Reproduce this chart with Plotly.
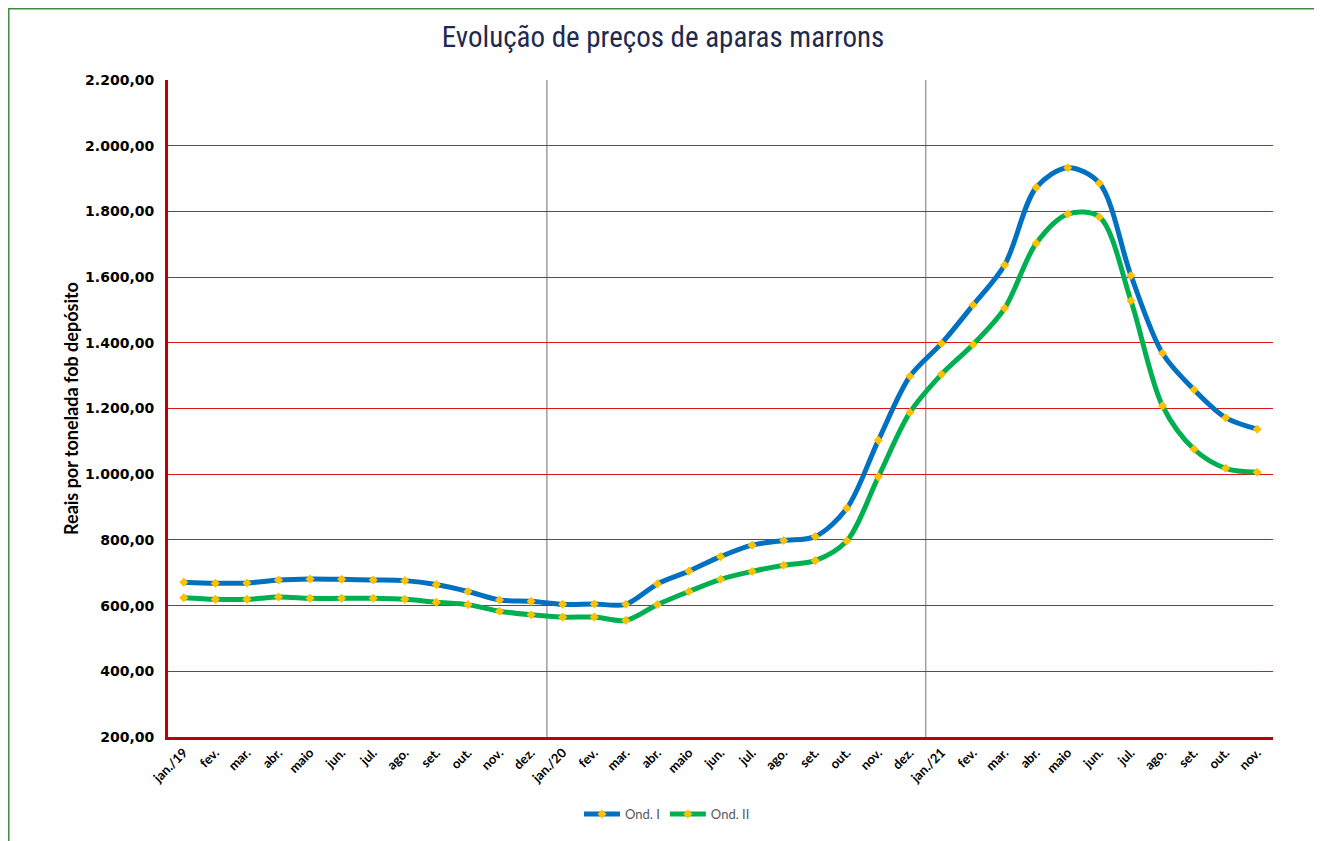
import plotly.graph_objects as go

months = ["jan./19", "fev.", "mar.", "abr.", "maio", "jun.", "jul.", "ago.", "set.", "out.", "nov.", "dez.",
          "jan./20", "fev.", "mar.", "abr.", "maio", "jun.", "jul.", "ago.", "set.", "out.", "nov.", "dez.",
          "jan./21", "fev.", "mar.", "abr.", "maio", "jun.", "jul.", "ago.", "set.", "out.", "nov."]

ond_i = [671, 668, 669, 678, 681, 680, 678, 676, 664, 643, 617, 613,
         604, 605, 604, 666, 705, 749, 784, 798, 810, 896, 1103, 1298,
         1398, 1515, 1637, 1873, 1933, 1886, 1605, 1368, 1257, 1172, 1137]

ond_ii = [624, 619, 619, 626, 622, 622, 622, 619, 610, 603, 583, 572,
          565, 565, 555, 603, 643, 680, 704, 723, 737, 797, 992, 1188,
          1304, 1395, 1505, 1703, 1792, 1783, 1528, 1208, 1076, 1018, 1006]

year_starts = ["jan./20", "jan./21"]

x = list(range(len(months)))

# page is offset by the default 8px body margin
OFF = 8
W, H = 1322 - OFF, 841 - OFF
L, T = 168 - OFF, 80 - OFF
R, B = W - (1273 - OFF), H - (737 - OFF)
pw, ph = W - L - R, H - T - B

def px(page_x):
    return (page_x - OFF - L) / pw

def py(page_y):
    return (H - B - (page_y - OFF)) / ph

fig = go.Figure()
for name, vals, col in [("Ond. I", ond_i, "#0070C0"), ("Ond. II", ond_ii, "#00B050")]:
    fig.add_trace(go.Scatter(
        x=x, y=vals, name=name, mode="lines+markers",
        line=dict(color=col, width=5, shape="spline", smoothing=0.9),
        marker=dict(symbol="diamond", color="#FFC000", size=7),
    ))

shapes = []
for lab in year_starts:
    i = months.index(lab)
    shapes.append(dict(type="line", xref="x", yref="paper", x0=i - 0.5, x1=i - 0.5, y0=0, y1=1,
                       line=dict(color="#A0A0A0", width=1.5), layer="between"))
# outer chart border
shapes.append(dict(type="rect", xref="paper", yref="paper",
                   x0=(0.8 - L) / pw, x1=px(1320), y0=py(860), y1=(H - B - 0.8) / ph,
                   line=dict(color="#3F8A3F", width=1.5), layer="below"))

fig.update_layout(
    width=W, height=H,
    margin=dict(l=L, r=R, t=T, b=B, autoexpand=False),
    paper_bgcolor="white", plot_bgcolor="white",
    separators=",.",
    title=dict(text="Evolução de preços de aparas marrons", x=(663 - OFF) / W, xref="container", xanchor="center",
               y=1 - (37 - OFF) / H, yref="container", yanchor="middle",
               font=dict(family="Liberation Sans Narrow, Roboto Condensed, DejaVu Sans Condensed, sans-serif",
                         size=29, color="#1F2A4E")),
    showlegend=True,
    legend=dict(orientation="h", x=px(667), xanchor="center", y=py(814), yanchor="middle",
                font=dict(family="Lato, sans-serif", size=13, color="#595959"),
                itemwidth=36, tracegroupgap=0),
    shapes=shapes,
)

fig.update_xaxes(
    range=[-0.5, len(months) - 0.5], automargin=False,
    tickmode="array", tickvals=x, ticktext=months, tickangle=-45,
    tickfont=dict(family="Lato, sans-serif", size=13, color="black", weight="bold"),
    showgrid=False, zeroline=False,
    showline=True, linecolor="#C00000", linewidth=3, ticks="",
)
fig.update_yaxes(
    range=[200, 2200], dtick=200, tickformat=",.2f", automargin=False,
    tickfont=dict(family="DejaVu Sans, sans-serif", size=14, color="black", weight="bold"),
    ticklabelstandoff=8,
    showgrid=True, gridcolor="#D81818", gridwidth=1, zeroline=False,
    showline=True, linecolor="#C00000", linewidth=3, ticks="",
    title=dict(text="Reais por tonelada fob depósito",
               font=dict(family="Lato, sans-serif", size=18, color="black", weight="bold"), standoff=2),
)

fig.write_html("out.html")
